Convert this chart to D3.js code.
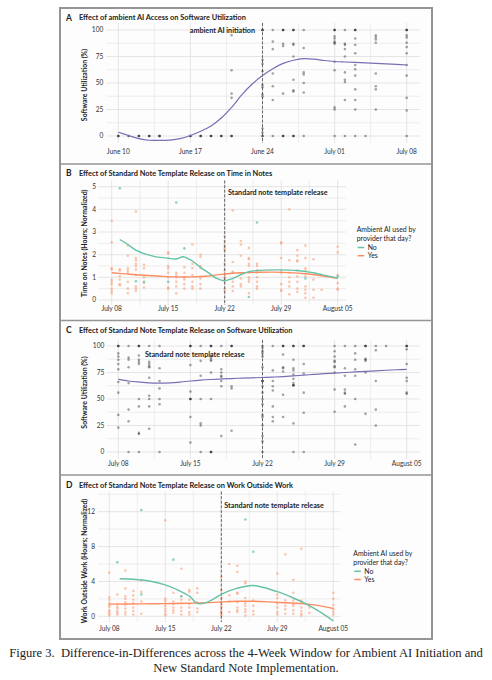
<!DOCTYPE html>
<html>
<head>
<meta charset="utf-8">
<script src="https://cdn.jsdelivr.net/npm/d3@7"></script>
<style>
body { margin: 0; background: #fff; }
text { font-family: Lato, "Open Sans", sans-serif; fill: #222; }
</style>
</head>
<body>
<svg id="fig" width="492" height="680"></svg>
<script>
// ---- data (days counted from the first date of each window) ----
var aStart = "2024-06-10";
var aEvent = 14; // June 24
var aPoints = [
  [0,[0,0,0]],[1,[0,0]],[2,[0,0,0]],[3,[0,0,0]],[4,[0,0,0]],
  [7,[0,0,0]],[8,[0,0,0]],[9,[0,0,0]],[10,[0,0,0]],[11,[95,62,40,36,0,0,0]],
  [14,[100,100,100,72,68,61,48,46,39,37,7,3,0,0]],
  [15,[100,89,82,59,47,34,0]],
  [16,[100,100,100,87,85,40,0,0,0]],
  [17,[100,100,100,87,86,75,53,43,42,0,0,0]],
  [18,[100,83,60,58,50,41,0]],
  [21,[100,100,100,94,92,89,88,87,70,62,27,25,0]],
  [22,[100,87,86,82,75,60,53,51,34,0]],
  [23,[100,100,100,92,86,78,67,63,57,44,34,25,0]],
  [24,[0]],
  [25,[95,93,91,88,59,47,44,25]],
  [28,[100,100,100,95,93,88,84,78,67,57,36,24,0]]
];
var aCurveDays = [0,1,2,3,4,5,6,7,8,9,10,11,12,13,14,15,16,17,18,19,20,21,22,23,24,25,26,27,28];
var aCurveVals = [3.5,0.5,-2.5,-4,-4.2,-3.8,-2.5,0.5,4.5,9.5,17,27,39,49,57,63.5,68.5,71.5,73,72.5,71.2,70.3,69.8,69.4,69,68.5,68,67.5,67];

var bStart = "2024-07-08";
var bEvent = 14; // July 22
var bYes = [
  [0,[3.5,2.55,1.4,1.35,0.9,0.8,0.7,0.5,0.4,0.3]],
  [1,[1.35,1.3,1.05,0.9,0.7,0.65]],
  [2,[2.4,1.95,1.4,1.3,1.2,0.8,0.5,0.3]],
  [3,[3.9,1.85,1.75,1.6,1.5,1.35,1.1,0.6,0.5,0.4]],
  [4,[1.55,1.4,1.0,0.75,0.55]],
  [7,[2.1,2.05,1.5,1.4,1.2,1.0,0.55,0.5]],
  [8,[1.2,1.1,1.0,0.8,0.6,0.3]],
  [9,[1.45,1.2,1.0,0.9,0.7,0.5]],
  [10,[2.45,1.6,1.4,1.1,0.8,0.6,0.5]],
  [11,[2.0,1.9,1.5,1.4,0.95,0.7,0.5]],
  [14,[2.8,2.6,2.4,2.3,2.2,1.6,1.3,1.1,1.0,0.9,0.8,0.5,0.4]],
  [15,[3.95,1.68,1.25,1.2,0.8,0.6,0.4]],
  [16,[2.6,2.45,1.95,1.15,0.95,0.7,0.6]],
  [17,[2.3,1.85,1.8,1.6,1.5,1.2,1.0,0.9,0.8,0.3]],
  [18,[1.6,1.5,1.3,1.2,1.0,0.8,0.6,0.5]],
  [21,[2.55,2.5,1.85,1.3,1.2,0.7,0.45,0.4]],
  [22,[4.0,1.75,1.2,1.0,0.8,0.6,0.25]],
  [23,[2.2,1.95,1.75,1.7,1.3,1.05,0.8,0.5,0.35]],
  [24,[2.4,1.85,1.4,1.3,1.05,0.6,0.45,0.3,0.1]],
  [25,[1.8,0.9,0.45,0.1]],
  [26,[0.45]],
  [28,[2.35,2.1,1.1,0.75,0.5,0.45]]
];
var bNo = [[1,[4.93]],[3,[0.83]],[4,[0.8]],[7,[0.8]],[8,[4.3]],[9,[2.28]],[17,[0.13]],[18,[3.42]],[24,[0.95]],[28,[1.05]]];
var bNoDays = [1,2,3,4,5,6,7,8,8.85,9.5,10,11,12,13,14,15,16,17,18,19,20,21,22,23,24,25,26,27,28];
var bNoVals = [2.67,2.45,2.2,2.05,1.95,1.88,1.84,1.81,1.91,1.82,1.72,1.44,1.2,0.95,0.85,0.95,1.12,1.25,1.3,1.32,1.33,1.33,1.32,1.3,1.26,1.2,1.12,1.04,0.96];
var bYesDays = [0,2,4,6,8,10,12,14,16,18,20,22,24,26,28];
var bYesVals = [1.2,1.14,1.09,1.05,1.02,1.02,1.06,1.15,1.2,1.22,1.23,1.21,1.16,1.07,0.96];

var cStart = "2024-07-08";
var cEvent = 14; // July 22
var cPoints = [
  [0,[100,100,100,93,90,87,83,78,66,56,35,23]],
  [1,[100,89,87,80,65,40,29,0]],
  [2,[100,100,100,91,87,85,83,50,43,18,17,0]],
  [3,[100,85,83,81,80,70,53,50,43,22]],
  [4,[100,79,67,60,50,45,0]],
  [7,[100,100,100,82,57,50,50,50,33,9]],
  [8,[100,86,72,50,27,25,0]],
  [9,[100,100,100,91,89,87,86,75,50,0,0,0]],
  [10,[100,78,75,72,71,67,62,15]],
  [11,[100,100,100,62,60,20]],
  [14,[100,98,95,93,90,80,67,67,67,62,56,50,45,35,33,25,15,10,0]],
  [15,[100,77,67,62,58,43,33,29]],
  [16,[100,100,100,92,80,79,76,54,33]],
  [17,[100,100,100,87,79,77,73,69,65,63,63,63,27,0]],
  [18,[100,100,100,83,74,56,37,0]],
  [21,[100,95,90,86,85,81,80,75,59,38]],
  [22,[100,79,72,59,56,55,43]],
  [23,[100,93,87,78,72,50,7]],
  [24,[100,100,100,88,87,86,75,36]],
  [25,[100,96,67,40,25]],
  [26,[100]],
  [28,[100,100,100,97,83,70,67,56,55]]
];
var cCurveDays = [0,1,2,3,4,5,6,7,8,9,10,11,12,13,14,15,16,17,18,19,20,21,22,23,24,25,26,27,28];
var cCurveVals = [68.5,67,66,65.2,65,65.3,66,67,67.8,68.4,68.9,69.3,69.7,70,70.3,70.7,71.2,71.8,72.5,73.2,73.9,74.5,75,75.5,76,76.6,77.1,77.6,78];

var dStart = "2024-07-08";
var dEvent = 14; // July 22
var dYes = [
  [0,[5.0,2.2,1.9,1.5,1.3,1.1,0.7,0.5,0.3,0.1]],
  [1,[2.5,1.4,1.1,0.9,0.6,0.4,0.2]],
  [2,[5.25,3.2,2.3,2.0,1.6,1.3,0.9,0.5,0.2]],
  [3,[2.9,2.4,1.9,1.5,1.0,0.6,0.2]],
  [4,[4.1,2.8,1.7,0.3]],
  [7,[11.0,2.0,1.8,1.5,1.2,0.9,0.6,0.3,0.1]],
  [8,[2.7,1.7,1.4,1.0,0.7,0.4]],
  [9,[5.45,2.3,1.9,1.5,1.0,0.6,0.2]],
  [10,[3.0,2.8,1.9,1.4,1.0,0.5,0.2]],
  [11,[3.2,2.7,1.6,0.9,0.5]],
  [14,[4.5,3.0,2.1,1.6,1.3,1.0,0.7,0.4,0.2,0.05]],
  [15,[6.0,2.4,1.7,0.5]],
  [16,[5.8,5.1,2.7,2.6,1.6,1.0,0.7,0.5]],
  [17,[4.0,3.8,2.1,1.5,1.2,0.8,0.5,0.1]],
  [18,[1.8,1.2,0.6,0.2]],
  [21,[4.9,2.5,2.1,1.5,1.0,0.5,0.2]],
  [22,[7.1,1.8,1.2,0.8,0.3]],
  [23,[4.2,2.7,1.8,1.4,1.2,0.7,0.3]],
  [24,[7.75,1.8,1.5,1.0,0.6,0.3,0.1]],
  [25,[1.3,1.0,0.4]],
  [28,[2.7,2.0,1.3,0.8,0.5,0.2]]
];
var dNo = [[1,[6.2]],[4,[12.2,2.5]],[8,[6.5]],[9,[2.3]],[17,[11.1]],[18,[7.4]]];
var dNoDays = [1.3,3,5,7,8.6,10.1,10.9,11.6,12.6,14.1,15.9,18,20.9,23,24.7,26.3,28];
var dNoVals = [4.3,4.25,4.05,3.6,3.0,2.26,1.5,1.45,1.77,2.57,3.2,3.54,2.85,2.1,1.38,0.54,-0.54];
var dYesDays = [0,4,7,10,12,14,16,18,20,22,24,26,28];
var dYesVals = [1.4,1.42,1.45,1.5,1.55,1.65,1.72,1.72,1.65,1.55,1.45,1.25,0.9];

var legendTitle = ["Ambient AI used by", "provider that day?"];
var legendKeys = ["No", "Yes"];

// ---- styles ----
var colNo = "#66c2a5", colYes = "#fc8d62", colFit = "#7570b3";

var svg = d3.select("#fig");
var day = 864e5;
var fmt = d3.utcFormat("%B %d");

svg.append("rect")
  .attr("x", 60).attr("y", 8).attr("width", 372).attr("height", 631)
  .attr("fill", "#fdfdfd").attr("stroke", "#959595").attr("stroke-width", 2);
[164, 320.5, 475].forEach(function(y) {
  svg.append("line").attr("x1", 60).attr("x2", 432).attr("y1", y).attr("y2", y)
    .attr("stroke", "#959595").attr("stroke-width", 1.6);
});

function panel(o) {
  var t0 = new Date(o.start + "T00:00:00Z");
  var x = d3.scaleUtc().domain([t0, new Date(+t0 + 28 * day)]).range(o.xr);
  var y = d3.scaleLinear().domain(o.yd).range(o.yr);
  var xd = function(d) { return x(new Date(+t0 + d * day)); };
  var g = svg.append("g");

  // title
  g.append("text").attr("x", 66).attr("y", o.titleY).attr("dy", "0.35em")
    .style("font-size", "8.5px").style("font-weight", 700).text(o.letter);
  g.append("text").attr("x", 79).attr("y", o.titleY).attr("dy", "0.35em")
    .style("font-size", "7.4px").style("font-weight", 700).text(o.title);

  // grid
  var yTop = y.invert(o.py[0]), yBot = y.invert(o.py[1]);
  var hs = d3.range(o.yticks[0], yTop + 1e-9, o.ystep).concat(d3.range(o.yticks[0] - o.ystep, yBot, -o.ystep));
  g.selectAll(".hg").data(hs).enter().append("line")
    .attr("x1", o.px[0]).attr("x2", o.px[1])
    .attr("y1", function(d) { return y(d); }).attr("y2", function(d) { return y(d); })
    .attr("stroke", "#e2e2e2").attr("stroke-width", function(d) {
      return o.yticks.indexOf(+d.toFixed(4)) >= 0 ? 0.9 : 0.6; });
  var vs = d3.range(0, 28.01, 3.5);
  g.selectAll(".vg").data(vs).enter().append("line")
    .attr("x1", xd).attr("x2", xd).attr("y1", o.py[0]).attr("y2", o.py[1])
    .attr("stroke", "#e2e2e2").attr("stroke-width", function(d) { return d % 7 === 0 ? 0.9 : 0.6; });

  // axes text
  g.selectAll(".yt").data(o.yticks).enter().append("text")
    .attr("x", o.labelX).attr("y", function(d) { return y(d); }).attr("dy", "0.35em")
    .attr("text-anchor", "end").style("font-size", "6.6px").style("fill", "#333").text(function(d) { return d; });
  g.selectAll(".xt").data(d3.range(0, 29, 7)).enter().append("text")
    .attr("x", xd).attr("y", o.xLabelY).attr("dy", "0.35em").attr("text-anchor", "middle")
    .style("font-size", "6.6px").style("fill", "#333")
    .text(function(d) { return fmt(new Date(+t0 + d * day)); });
  g.append("text").attr("transform", "translate(85," + o.yTitleY + ") rotate(-90)")
    .attr("dy", "0.35em").attr("text-anchor", "middle")
    .style("font-size", "6.9px").style("font-weight", 700).text(o.yTitle);

  // points
  o.points.forEach(function(s) {
    var flat = [];
    s.data.forEach(function(p) { p[1].forEach(function(v) { flat.push([p[0], v]); }); });
    g.selectAll(null).data(flat).enter().append("circle")
      .attr("cx", function(d) { return xd(d[0]); }).attr("cy", function(d) { return y(d[1]); })
      .attr("r", 1.3).attr("fill", s.color).attr("fill-opacity", s.op);
  });

  // event line
  g.append("line").attr("x1", xd(o.event)).attr("x2", xd(o.event))
    .attr("y1", o.py[0]).attr("y2", o.py[1])
    .attr("stroke", "#555").attr("stroke-width", 0.9).attr("stroke-dasharray", "3,1.6");
  g.append("text").attr("x", o.noteX).attr("y", o.noteY).attr("dy", "0.35em")
    .attr("text-anchor", o.noteAnchor).style("font-size", "7.2px").style("font-weight", 700).text(o.note);

  // fitted curves
  var line = d3.line().curve(d3.curveCatmullRom.alpha(0.5))
    .x(function(d) { return xd(d[0]); }).y(function(d) { return y(d[1]); });
  o.curves.forEach(function(c) {
    g.append("path").datum(d3.zip(c.days, c.vals)).attr("d", line)
      .attr("fill", "none").attr("stroke", c.color).attr("stroke-width", c.w);
  });

  // legend
  if (o.legend) {
    var L = o.legend;
    legendTitle.forEach(function(t, i) {
      g.append("text").attr("x", L.x).attr("y", L.y + i * 9).attr("dy", "0.35em")
        .style("font-size", "6.9px").text(t);
    });
    [colNo, colYes].forEach(function(c, i) {
      var yy = L.y + 18 + i * 8.2;
      g.append("line").attr("x1", L.x + 1).attr("x2", L.x + 7.5).attr("y1", yy).attr("y2", yy)
        .attr("stroke", c).attr("stroke-width", 1.5);
      g.append("text").attr("x", L.x + 11).attr("y", yy).attr("dy", "0.35em")
        .style("font-size", "6.9px").text(legendKeys[i]);
    });
  }
}

panel({
  letter: "A", title: "Effect of ambient AI Access on Software Utilization", titleY: 17.7,
  start: aStart, event: aEvent, xr: [118.3, 406.7], yd: [0, 100], yr: [136, 30],
  px: [106.5, 420], py: [23, 143], yticks: [0, 25, 50, 75, 100], ystep: 12.5,
  labelX: 103.3, xLabelY: 151.7, yTitle: "Software Utilization (%)", yTitleY: 85,
  note: "ambient AI initiation", noteX: 255, noteY: 30, noteAnchor: "end",
  points: [{ data: aPoints, color: "#111", op: 0.38 }],
  curves: [{ days: aCurveDays, vals: aCurveVals, color: colFit, w: 1.2 }]
});

panel({
  letter: "B", title: "Effect of Standard Note Template Release on Time in Notes", titleY: 173.3,
  start: bStart, event: bEvent, xr: [111.7, 337.7], yd: [0, 5], yr: [300, 186.7],
  px: [98.5, 346], py: [180.5, 305], yticks: [0, 1, 2, 3, 4, 5], ystep: 0.5,
  labelX: 96, xLabelY: 309, yTitle: "Time on Notes (Hours; Normalized)", yTitleY: 243.3,
  note: "Standard note template release", noteX: 228, noteY: 192.7, noteAnchor: "start",
  points: [{ data: bYes, color: colYes, op: 0.5 }, { data: bNo, color: colNo, op: 0.75 }],
  curves: [{ days: bYesDays, vals: bYesVals, color: colYes, w: 1.4 },
           { days: bNoDays, vals: bNoVals, color: colNo, w: 1.4 }],
  legend: { x: 356.7, y: 229.5 }
});

panel({
  letter: "C", title: "Effect of Standard Note Template Release on Software Utilization", titleY: 330,
  start: cStart, event: cEvent, xr: [118.3, 406.7], yd: [0, 100], yr: [452, 346],
  px: [107, 420], py: [340, 459], yticks: [0, 25, 50, 75, 100], ystep: 12.5,
  labelX: 104.3, xLabelY: 463.3, yTitle: "Software Utilization (%)", yTitleY: 392.5,
  note: "Standard note template release", noteX: 145, noteY: 354.3, noteAnchor: "start",
  points: [{ data: cPoints, color: "#111", op: 0.38 }],
  curves: [{ days: cCurveDays, vals: cCurveVals, color: colFit, w: 1.2 }]
});

panel({
  letter: "D", title: "Effect of Standard Note Template Release on Work Outside Work", titleY: 485,
  start: dStart, event: dEvent, xr: [109.3, 333.3], yd: [0, 12], yr: [616.3, 511.7],
  px: [98, 340.5], py: [491.5, 622], yticks: [0, 4, 8, 12], ystep: 2,
  labelX: 95, xLabelY: 628.3, yTitle: "Work Outside Work (Hours; Normalized)", yTitleY: 561,
  note: "Standard note template release", noteX: 224.3, noteY: 505.7, noteAnchor: "start",
  points: [{ data: dYes, color: colYes, op: 0.5 }, { data: dNo, color: colNo, op: 0.75 }],
  curves: [{ days: dYesDays, vals: dYesVals, color: colYes, w: 1.4 },
           { days: dNoDays, vals: dNoVals, color: colNo, w: 1.4 }],
  legend: { x: 353.3, y: 553.3 }
});

// caption
var cap = svg.append("g").style("font-family", "'Liberation Serif', 'DejaVu Serif', serif");
cap.append("text").attr("x", 246).attr("y", 657).attr("text-anchor", "middle")
  .style("font-family", "'Liberation Serif', serif").style("font-size", "12.6px").style("fill", "#222")
  .text("Figure 3.\u2002Difference-in-Differences across the 4-Week Window for Ambient AI Initiation and");
cap.append("text").attr("x", 246).attr("y", 671.5).attr("text-anchor", "middle")
  .style("font-family", "'Liberation Serif', serif").style("font-size", "12.6px").style("fill", "#222")
  .text("New Standard Note Implementation.");
</script>
</body>
</html>
